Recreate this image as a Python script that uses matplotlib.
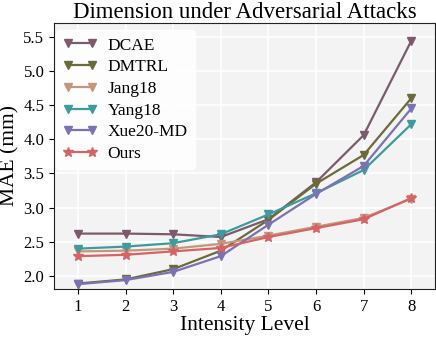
import numpy as np
import matplotlib.pyplot as plt

levels = [1, 2, 3, 4, 5, 6, 7, 8]

dcae = [2.62, 2.62, 2.61, 2.57, 2.83, 3.37, 4.06, 5.44]
dmtrl = [1.89, 1.95, 2.10, 2.37, 2.82, 3.35, 3.77, 4.60]
jang18 = [2.36, 2.37, 2.40, 2.47, 2.59, 2.72, 2.85, 3.13]
yang18 = [2.40, 2.43, 2.48, 2.61, 2.90, 3.21, 3.55, 4.22]
xue20 = [1.88, 1.94, 2.06, 2.29, 2.75, 3.20, 3.61, 4.45]
ours = [2.29, 2.31, 2.36, 2.41, 2.57, 2.70, 2.83, 3.14]

names = ["DCAE", "DMTRL", "Jang18", "Yang18", "Xue20-MD", "Ours"]
colors = ["#7b5a6b", "#6b6a3a", "#c4977c", "#3e9a9c", "#7a72b2", "#d46466"]
markers = ["v", "v", "v", "v", "v", "*"]

plt.rcParams["font.family"] = ["Liberation Serif", "DejaVu Serif"]

fig = plt.figure(figsize=(4.36, 3.38), dpi=100)
ax = fig.add_axes([0.124, 0.145, 0.874, 0.787])
ax.set_facecolor("#f3f3f3")
ax.grid(True, color="white", linewidth=1.2)
ax.set_axisbelow(True)

for vals, name, c, m in zip([dcae, dmtrl, jang18, yang18, xue20, ours], names, colors, markers):
    ms = 7 if m == "*" else 5.5
    ax.plot(levels, vals, color=c, marker=m, markersize=ms, linewidth=1.6, label=name)

ax.set_xlim(0.5, 8.5)
ax.set_ylim(1.81, 5.70)
ax.set_xticks(levels)
ax.set_yticks([2.0, 2.5, 3.0, 3.5, 4.0, 4.5, 5.0, 5.5])
ax.tick_params(labelsize=12, length=3.5)
for s in ax.spines.values():
    s.set_color("#222222")

ax.set_xlabel("Intensity Level", fontsize=15.5, labelpad=1)
ax.set_ylabel("MAE (mm)", fontsize=15.5, labelpad=3)
ax.set_title("Dimension under Adversarial Attacks", fontsize=16.5, pad=3)

leg = ax.legend(loc="upper left", bbox_to_anchor=(-0.005, 0.985), fontsize=12.5, frameon=True,
                facecolor="white", edgecolor="white", framealpha=0.85, borderaxespad=0.2,
                handlelength=2.0, handletextpad=0.6, labelspacing=0.32, numpoints=2)

plt.savefig("out.png", dpi=100)
